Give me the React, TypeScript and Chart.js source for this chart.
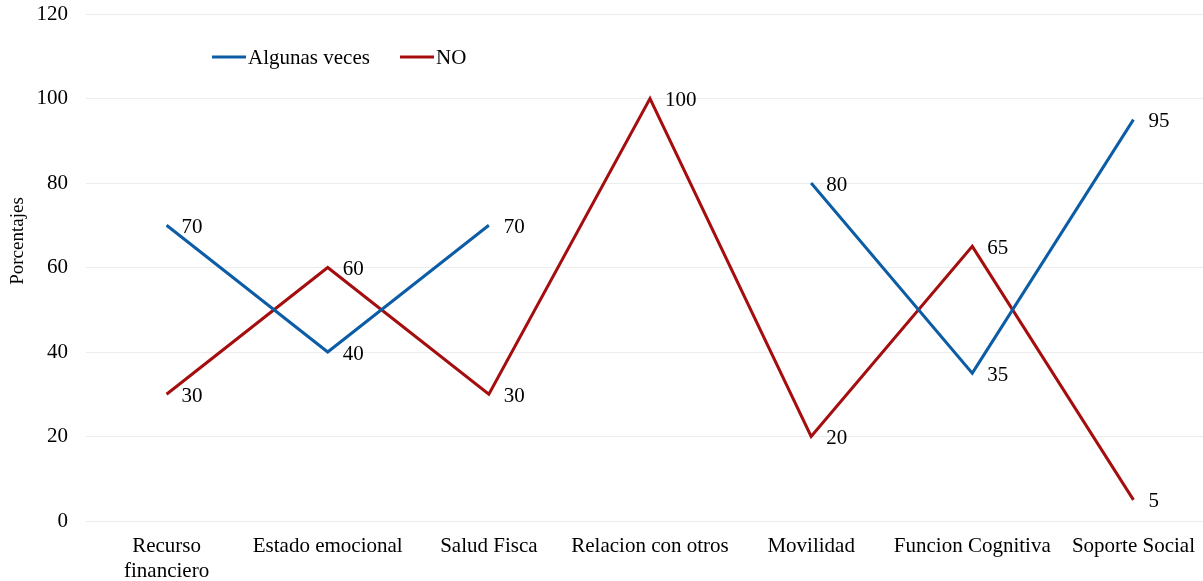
import React, { useEffect, useRef } from "react";
import { Chart, registerables } from "chart.js";

Chart.register(...registerables);

const categories: (string | string[])[] = [
  ["Recurso", "financiero"],
  "Estado emocional",
  "Salud Fisca",
  "Relacion con otros",
  "Movilidad",
  "Funcion Cognitiva",
  "Soporte Social",
];
const algunasVeces: (number | null)[] = [70, 40, 70, null, 80, 35, 95];
const noValues: (number | null)[] = [30, 60, 30, 100, 20, 65, 5];
const seriesNames = ["Algunas veces", "NO"];
const seriesColors = ["#0C5DA5", "#A50E0E"];
const yTicks = [0, 20, 40, 60, 80, 100, 120];
const yTitle = "Porcentajes";

const FONT = "'Liberation Serif', 'Times New Roman', serif";

const labelsPlugin = {
  id: "pointLabels",
  afterDatasetsDraw(chart: any) {
    const ctx = chart.ctx;
    ctx.save();
    ctx.font = `21px ${FONT}`;
    ctx.fillStyle = "#000";
    ctx.textAlign = "left";
    ctx.textBaseline = "middle";
    chart.data.datasets.forEach((ds: any, i: number) => {
      const meta = chart.getDatasetMeta(i);
      meta.data.forEach((pt: any, j: number) => {
        const v = ds.data[j];
        if (v === null || v === undefined) return;
        ctx.fillText(String(v), pt.x + 15, pt.y + 2);
      });
    });
    ctx.restore();
  },
};

const legendPlugin = {
  id: "innerLegend",
  afterDraw(chart: any) {
    const ctx = chart.ctx;
    ctx.save();
    ctx.font = `21px ${FONT}`;
    ctx.textBaseline = "middle";
    ctx.textAlign = "left";
    const y = 57;
    const starts = [212, 400];
    seriesNames.forEach((name, i) => {
      const x = starts[i];
      ctx.strokeStyle = seriesColors[i];
      ctx.lineWidth = 3;
      ctx.beginPath();
      ctx.moveTo(x, y);
      ctx.lineTo(x + 34, y);
      ctx.stroke();
      ctx.fillStyle = "#000";
      ctx.fillText(name, x + 36, y + 1);
    });
    // y-axis title
    ctx.translate(18, 241);
    ctx.rotate(-Math.PI / 2);
    ctx.font = `19px ${FONT}`;
    ctx.textAlign = "center";
    ctx.fillText(yTitle, 0, 0);
    ctx.restore();
  },
};

export default function App() {
  const ref = useRef<HTMLCanvasElement>(null);
  useEffect(() => {
    document.body.style.margin = "0";
    document.body.style.overflow = "hidden";
    const chart = new Chart(ref.current!, {
      type: "line",
      data: {
        labels: categories,
        datasets: [
          {
            label: seriesNames[0],
            data: algunasVeces,
            borderColor: seriesColors[0],
            backgroundColor: seriesColors[0],
            borderWidth: 3,
            pointRadius: 0,
            spanGaps: false,
            tension: 0,
          },
          {
            label: seriesNames[1],
            data: noValues,
            borderColor: seriesColors[1],
            backgroundColor: seriesColors[1],
            borderWidth: 3,
            pointRadius: 0,
            spanGaps: false,
            tension: 0,
          },
        ],
      },
      options: {
        animation: false,
        responsive: false,
        devicePixelRatio: 1,
        layout: { padding: { top: 14, left: 0, right: 0, bottom: 0 } },
        plugins: {
          legend: { display: false },
          tooltip: { enabled: false },
        },
        scales: {
          x: {
            offset: true,
            grid: { display: false, drawTicks: false },
            border: { display: false },
            ticks: {
              color: "#000",
              font: { family: FONT, size: 21 },
              maxRotation: 0,
              minRotation: 0,
              autoSkip: false,
              padding: 13,
            },
            afterFit(scale: any) {
              scale.height = 60;
              scale.paddingLeft = 0;
              scale.paddingRight = 0;
            },
          },
          y: {
            min: 0,
            max: 120,
            afterBuildTicks(scale: any) {
              scale.ticks = yTicks.map((v) => ({ value: v }));
            },
            grid: { color: "#ececec", lineWidth: 1, drawTicks: false },
            border: { display: false },
            ticks: {
              color: "#000",
              font: { family: FONT, size: 21 },
              padding: 18,
            },
            afterFit(scale: any) {
              scale.width = 86;
              scale.paddingTop = 0;
              scale.paddingBottom = 0;
            },
          },
        },
      },
      plugins: [labelsPlugin, legendPlugin],
    });
    return () => chart.destroy();
  }, []);
  return (
    <div style={{ width: 1203, height: 581, overflow: "hidden" }}>
      <canvas ref={ref} width={1214} height={581} style={{ display: "block" }} />
    </div>
  );
}
